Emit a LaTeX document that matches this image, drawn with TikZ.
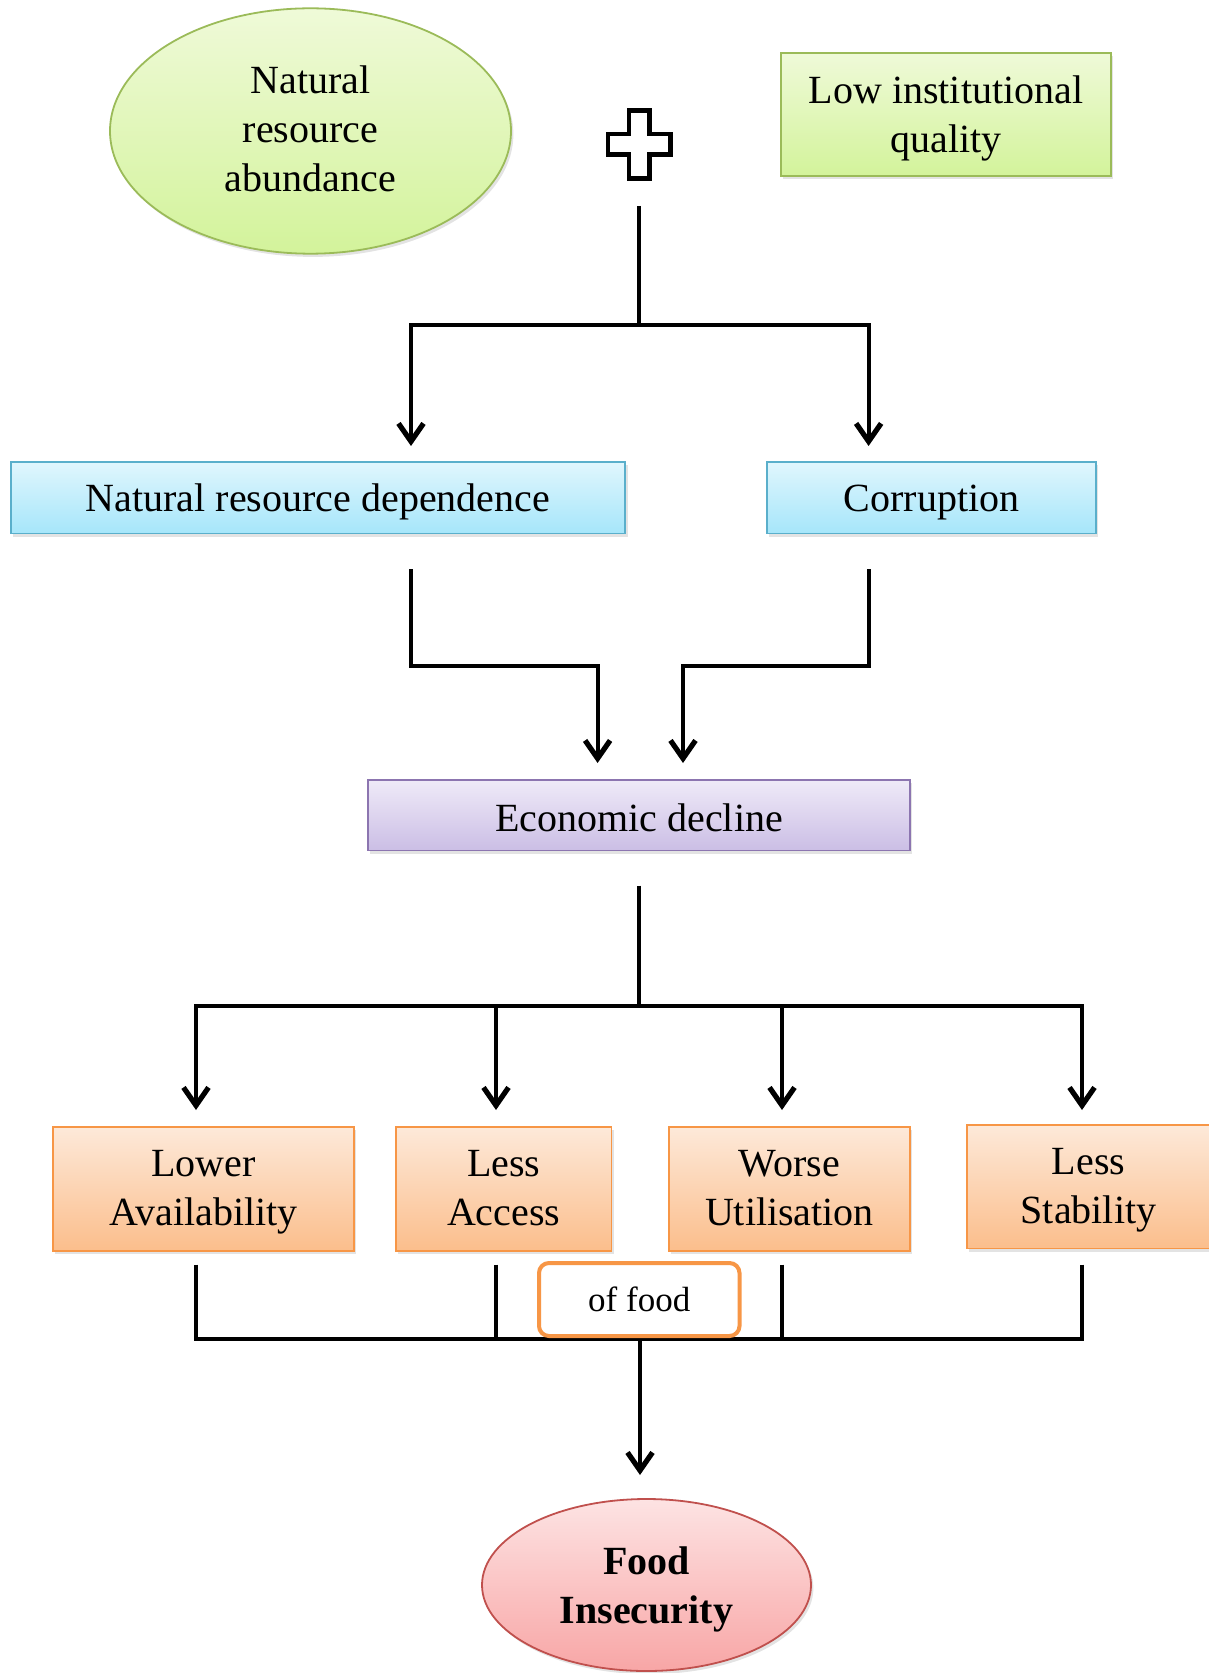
\documentclass[tikz,border=0pt]{standalone}
\usepackage{fontspec}
\setmainfont{Liberation Serif}
\usetikzlibrary{arrows.meta,shapes.geometric,shadows}

\definecolor{grnTop}{HTML}{EFFAD8}
\definecolor{grnBot}{HTML}{D3F39B}
\definecolor{grnLine}{HTML}{9BBB59}
\definecolor{bluTop}{HTML}{E0F6FD}
\definecolor{bluBot}{HTML}{A6E6FA}
\definecolor{bluLine}{HTML}{5AAFCB}
\definecolor{purTop}{HTML}{EFEAF8}
\definecolor{purBot}{HTML}{CBBEE5}
\definecolor{purLine}{HTML}{8C75B0}
\definecolor{orgTop}{HTML}{FDE9D9}
\definecolor{orgBot}{HTML}{FBBE8C}
\definecolor{orgLine}{HTML}{F79646}
\definecolor{redTop}{HTML}{FDE3E3}
\definecolor{redBot}{HTML}{F8A6A6}
\definecolor{redLine}{HTML}{C0504D}

\begin{document}
\begin{tikzpicture}[x=0.5pt,y=-0.5pt,
  base/.style={draw, line width=0.9pt, inner sep=0pt, align=center,
    font=\fontsize{20}{24.5}\selectfont,
    drop shadow={opacity=0.22,shadow xshift=1.2pt,shadow yshift=-1.6pt}},
  greenbox/.style={base, draw=grnLine, top color=grnTop, bottom color=grnBot},
  bluebox/.style={base, draw=bluLine, top color=bluTop, bottom color=bluBot,
    text height=18pt, text depth=4.4pt},
  purplebox/.style={base, draw=purLine, top color=purTop, bottom color=purBot,
    text height=16pt, text depth=0pt},
  orangebox/.style={base, draw=orgLine, top color=orgTop, bottom color=orgBot,
    minimum height=61.8pt, text height=41.4pt, text depth=4.4pt},
  redoval/.style={base, ellipse, draw=redLine, top color=redTop, bottom color=redBot,
    font=\fontsize{20}{24.5}\selectfont\bfseries, text height=42.5pt, text depth=4.4pt},
  conn/.style={line width=2pt},
  arr/.style={conn, -{Straight Barb[length=9pt,width=12.5pt,line width=2.6pt]}}
]
\useasboundingbox (0,0) rectangle (1208,1673);

% --- top level causes
\node[greenbox, ellipse, minimum width=200.5pt, minimum height=122.7pt,
  text height=60.6pt, text depth=0pt]
  (abund) at (310.5,131) {Natural\\resource\\abundance};
\node[greenbox, minimum width=165pt, minimum height=61.5pt,
  text height=42.5pt, text depth=4.4pt]
  (inst) at (946,114.5) {Low institutional\\quality};

% plus sign
\draw[line width=2.25pt, line join=miter]
  (628.9,110.4) -- (649.5,110.4) -- (649.5,133.9) -- (670.5,133.9) -- (670.5,154.5)
  -- (649.5,154.5) -- (649.5,178.5) -- (628.9,178.5) -- (628.9,154.5) -- (607.9,154.5)
  -- (607.9,133.9) -- (628.9,133.9) -- cycle;

% --- intermediate channels
\node[bluebox, minimum width=307.3pt, minimum height=35.75pt]
  (dep) at (318,497.75) {Natural resource dependence};
\node[bluebox, minimum width=164.5pt, minimum height=35.75pt]
  (corr) at (931.5,497.75) {Corruption};
\node[purplebox, minimum width=271pt, minimum height=35.25pt]
  (econ) at (639,815.25) {Economic decline};

% --- food security dimensions
\node[orangebox, minimum width=150.5pt] (avail) at (203.5,1188.8) {Lower\\Availability};
\node[orangebox, minimum width=107.75pt] (access) at (503.75,1188.8) {Less\\Access};
\node[orangebox, minimum width=120.5pt] (util) at (789.5,1188.8) {Worse\\Utilisation};
\node[orangebox, minimum width=121.5pt] (stab) at (1088.5,1186.7) {Less\\Stability};

\node[redoval, minimum width=164.5pt, minimum height=86pt]
  (insec) at (646.5,1585) {Food\\Insecurity};

% --- junction points of the connectors
\coordinate (s0) at (639,206);
\coordinate (s1) at (639,325.5);
\coordinate (tDep) at (411,446);
\coordinate (tCorr) at (868.6,446);

\coordinate (d0) at (411,569);
\coordinate (d1) at (597.6,666);
\coordinate (dEnd) at (597.6,763);
\coordinate (c0) at (868.6,569);
\coordinate (c1) at (683,666);
\coordinate (cEnd) at (683,763);

\coordinate (e0) at (639,885.7);
\coordinate (e1) at (639,1006);
\coordinate (tAv) at (196,1110);
\coordinate (tAc) at (496,1110);
\coordinate (tUt) at (782,1110);
\coordinate (tSt) at (1082,1110);

\coordinate (bAv) at (196,1264.5);
\coordinate (bAc) at (496,1264.5);
\coordinate (bUt) at (782,1264.5);
\coordinate (bSt) at (1082,1264.5);
\coordinate (m0) at (640,1339);
\coordinate (mEnd) at (640,1475);

% --- connectors
\draw[conn] (s0) -- (s1);
\draw[arr] (s1) -| (tDep);
\draw[arr] (s1) -| (tCorr);

\draw[arr] (d0) |- (d1) -- (dEnd);
\draw[arr] (c0) |- (c1) -- (cEnd);

\draw[conn] (e0) -- (e1);
\draw[arr] (e1) -| (tAv);
\draw[arr] (e1) -| (tAc);
\draw[arr] (e1) -| (tUt);
\draw[arr] (e1) -| (tSt);

\draw[conn] (bAv) |- (m0);
\draw[conn] (bAc) |- (m0);
\draw[conn] (bUt) |- (m0);
\draw[conn] (bSt) |- (m0);
\draw[arr] (m0) -- (mEnd);

% label on the merging line
\node[draw=orgLine, line width=2pt, fill=white, rounded corners=5pt,
  minimum width=100.25pt, minimum height=36.5pt, inner sep=0pt,
  font=\fontsize{17.5}{21}\selectfont] (food) at (639.25,1299.5) {of food};
\end{tikzpicture}
\end{document}
